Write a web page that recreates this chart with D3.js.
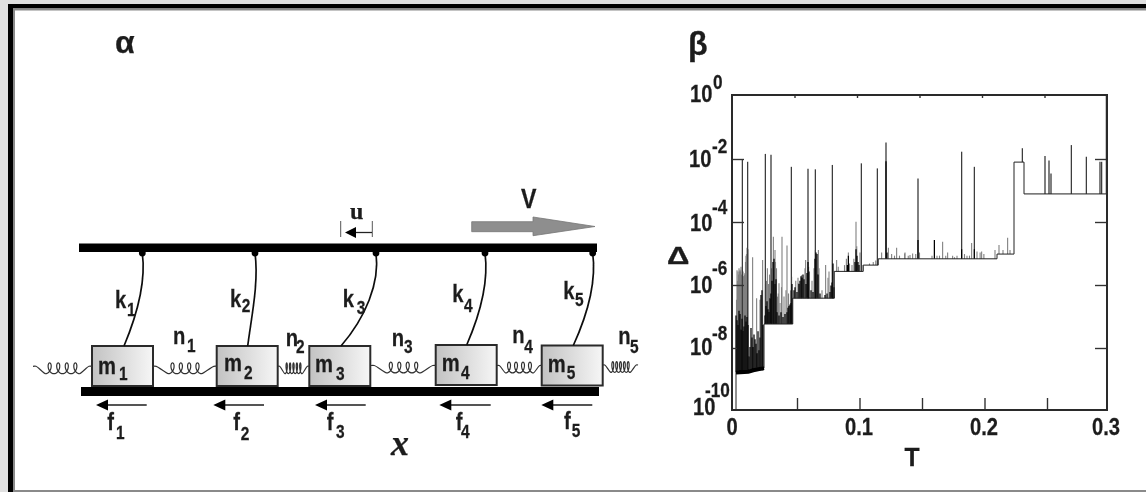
<!DOCTYPE html>
<html><head><meta charset="utf-8">
<script src="https://cdn.jsdelivr.net/npm/d3@7/dist/d3.min.js"></script>
<style>html,body{margin:0;padding:0;background:#fff}svg{display:block}
text{font-family:"Liberation Sans",Arial,sans-serif;font-weight:bold;fill:#1c1c1c;stroke:#1c1c1c;stroke-width:.25}</style>
</head><body><svg id="c" width="1146" height="492"></svg>
<script>
// ---- chart data (T, log10 Delta) ----
const stepT   = [.0032,.0032,.0130,.0170,.0256,.0256,.0486,.0486,.0818,.0818,.105,.105,.117,.117,.212,.212,.2256,.2256,.2336,.2336,.3];
const stepLog = [-10,-8.81,-8.79,-8.74,-8.67,-7.27,-7.27,-6.45,-6.45,-5.6,-5.6,-5.4,-5.4,-5.2,-5.2,-5.05,-5.05,-2.13,-2.13,-3.14,-3.14];
const tallT   = [.0083,.0125,.0267,.0312,.0475,.0608,.0667,.0803,.1035,.1163,.1232,.1488,.1837,.1939,.2323,.2504,.2536,.2552,.2715,.2835,.2944,.2957,.2995];
const tallLog = [-2.06,-2.12,-1.87,-1.9,-2.28,-2.34,-2.36,-2.22,-2.17,-2.33,-1.51,-2.65,-1.8,-2.28,-1.69,-1.94,-2.08,-2.49,-1.59,-1.96,-2.12,-2.12,0];
const midT    = [.0040,.0048,.0056,.0064,.0072,.0088,.0104,.0112,.0120,.0128,.0165,.0197,.0224,.0245,.0283,.0331,.0344,.0400,.0440,.0376,.0477,.0531,.0557,.0589,.0613,.0667,.0691,.0749,.0803,.0837,.0931,.0992,.0998,.1024,.1251,.1317,.1197,.1277,.1384,.1381,.1424,.1445,.1685,.1725,.1765,.1917,.1960,.1997,.2104,.2136,.2168,.2205,.2224,
  .0036,.0044,.0052,.0060,.0068,.0076,.0084,.0092,.0096,.0100,.0108,.0116,
  .0268,.0276,.0292,.0300,.0316,.0348,.0356,.0364,.0370,.0384,.0396,.0416,.0432,.0452,.0468,
  .0510,.0528,.0584,.0640,.0656,.0696,.0720,.0768,.0776,
  .0850,.0900,.0915,.0940,.0960,.0975,.1040,.1100,.1130,.1150,
  .1300,.1340,.1410,.1470,.1500,.1600,.1640,.1660,.1710,.1780,.1800,.1860,.1880,.1900,.1985,.2015];
const midLog  = [-5.56,-5.6,-5.5,-5.55,-5.45,-5.6,-5.65,-5.1,-4.85,-4.9,-5.15,-6.45,-6.5,-5.24,-5.5,-4.5,-4.92,-4.5,-4.78,-5.98,-5.77,-5.98,-5.72,-5.24,-5.45,-4.92,-4.92,-5.4,-5.24,-5.24,-5.0,-4.02,-4.8,-5.0,-4.85,-4.85,-5.0,-5.05,-5.0,-5.03,-5.08,-5.03,-4.66,-5.0,-5.1,-4.7,-4.97,-4.97,-4.92,-4.76,-4.92,-4.53,-4.92,
  -6.5,-5.9,-5.7,-5.6,-5.6,-5.7,-5.55,-5.75,-5.8,-5.7,-5.3,-5.05,
  -6.0,-5.9,-6.0,-5.7,-5.5,-5.3,-5.5,-6.4,-6.3,-6.6,-6.1,-6.4,-6.2,-6.3,-6.2,
  -5.9,-5.8,-5.5,-5.9,-5.5,-5.5,-6.2,-5.8,-5.6,
  -5.45,-5.4,-5.2,-5.35,-5.4,-5.2,-5.4,-5.35,-5.3,-5.25,
  -5.1,-5.1,-5.1,-5.05,-5.0,-5.1,-5.1,-5.1,-5.1,-5.15,-5.1,-5.05,-5.1,-5.1,-5.0,-5.05];
const denseT  = [.0032,.0040,.0048,.0056,.0064,.0072,.0080,.0088,.0096,.0104,.0112,.0120,.0128,.0136,.0144,.0152,.0160,.0168,.0176,.0184,.0192,.0200,.0208,.0216,.0224,.0232,.0240,.0248,
  .0264,.0272,.0280,.0288,.0296,.0304,.0312,.0320,.0328,.0336,.0344,.0352,.0360,.0376,.0392,.0408,.0424,.0440,.0448,.0456,.0464,.0472,.0480,
  .0496,.0504,.0520,.0536,.0544,.0552,.0560,.0568,.0576,.0592,.0600,.0608,.0616,.0632,.0648,.0664,.0672,.0680,.0688,.0704,.0744,.0760,.0784,.0792,.0800,.0808,.0816,
  .0923,.0931,.0984,.0992,.1000,.1008,.1016,.1232,.1240,.1488,.1619,.1837,.1939];
const denseLog= [-7.0,-7.15,-7.3,-6.85,-6.95,-7.45,-7.1,-7.5,-7.35,-7.0,-7.2,-7.05,-7.3,-8.3,-8.0,-7.4,-7.7,-8.0,-7.6,-7.75,-7.9,-8.2,-7.5,-8.1,-7.7,-6.35,-6.2,-7.3,
  -7.0,-6.7,-6.55,-6.8,-6.9,-6.45,-6.3,-5.9,-5.3,-5.2,-6.0,-5.85,-6.9,-7.0,-6.9,-7.05,-6.95,-6.9,-6.75,-6.7,-6.65,-6.6,-6.0,
  -6.2,-6.1,-6.25,-6.0,-5.9,-5.75,-5.8,-5.7,-5.85,-6.0,-5.65,-5.3,-5.6,-6.2,-6.25,-5.2,-5.0,-5.05,-5.7,-6.3,-6.35,-6.3,-6.25,-6.05,-5.95,-5.35,-6.1,
  -5.4,-5.1,-5.3,-4.9,-5.1,-5.3,-5.4,-2.1,-5.0,-4.6,-4.6,-4.9,-4.9];
const yTicks  = [0,-2,-4,-6,-8,-10];
const xLabels = [0,0.1,0.2,0.3];
const xTicks  = [.05,.1,.15,.2,.25];
// ---- schematic content ----
const kLabels = ["1","2","3","4","5"];

// ---- layout ----
const W=1146,H=492,SX=.86;
const svg=d3.select("#c");
const defs=svg.append("defs");
const f=defs.append("filter").attr("id","soft").attr("x","-2%").attr("y","-2%").attr("width","104%").attr("height","104%");
f.append("feGaussianBlur").attr("stdDeviation",0.45);
const grad=defs.append("linearGradient").attr("id","box");
grad.append("stop").attr("offset","0%").attr("stop-color","#c2c2c2");
grad.append("stop").attr("offset","100%").attr("stop-color","#f6f6f6");

// page frame
const frame=svg.append("g");
frame.append("rect").attr("width",W).attr("height",H).attr("fill","#fff");
frame.append("rect").attr("width",W).attr("height",4).attr("fill","#e0e0e0");
frame.append("rect").attr("width",8).attr("height",H).attr("fill","#e0e0e0");
frame.append("rect").attr("x",8).attr("y",4).attr("width",W-8).attr("height",4.5).attr("fill","#000");
frame.append("rect").attr("x",8).attr("y",8.5).attr("width",W-8).attr("height",2).attr("fill","#8a8a8a");
frame.append("rect").attr("x",8).attr("y",4).attr("width",5).attr("height",H-4).attr("fill","#000");
frame.append("rect").attr("x",13).attr("y",8.5).attr("width",2).attr("height",H-8).attr("fill","#8a8a8a");
frame.append("rect").attr("x",13).attr("y",490).attr("width",W-13).attr("height",2).attr("fill","#8a8a8a");

const root=svg.append("g").attr("filter","url(#soft)");

// ---- panel beta ----
const x=d3.scaleLinear().domain([0,.3]).range([732,1107]);
const y=d3.scaleLinear().domain([0,-10]).range([95,410]);
const g=root.append("g");
function baseAt(t){const i=Math.max(0,d3.bisectRight(stepT,t)-1);return stepLog[i];}
function spikes(ts,ls,color,w){
  g.append("g").selectAll("line").data(ts).join("line")
   .attr("x1",d=>x(d)).attr("x2",d=>x(d))
   .attr("y1",d=>y(baseAt(d))).attr("y2",(d,i)=>y(ls[i]))
   .attr("stroke",color).attr("stroke-width",w);
}
spikes(midT,midLog,"#808080",1.1);
spikes(tallT,tallLog,"#3c3c3c",1.3);
spikes(denseT,denseLog,"#000",1.25);
const pts=stepT.map((t,i)=>[t,stepLog[i]]);
g.append("path").attr("d",d3.line().x(d=>x(d[0])).y(d=>y(d[1]))(pts))
 .attr("fill","none").attr("stroke","#222").attr("stroke-width",1);
g.append("path").attr("d",d3.line().x(d=>x(d[0])).y(d=>y(d[1]))(pts.slice(1,5)))
 .attr("fill","none").attr("stroke","#000").attr("stroke-width",4);

function styleAxis(a){a.select(".domain").remove();a.selectAll("line").attr("stroke","#333").attr("stroke-width",1.4);a.selectAll("text").remove();}
root.append("g").attr("transform","translate(2.5,410)").call(d3.axisBottom(x).tickValues(xTicks).tickSize(-12)).call(styleAxis);
root.append("g").attr("transform","translate(0,95)").call(d3.axisTop(x).tickValues(xTicks).tickSize(-3)).call(styleAxis);
root.append("g").attr("transform","translate(732,1)").call(d3.axisLeft(y).tickValues([-2,-4,-6]).tickSize(-12)).call(styleAxis);
root.append("g").attr("transform","translate(732,1)").call(d3.axisLeft(y).tickValues([-8]).tickSize(-5)).call(styleAxis);
root.append("g").attr("transform","translate(1107,1)").call(d3.axisRight(y).tickValues([-2,-4,-6,-8]).tickSize(-12)).call(styleAxis);
root.append("rect").attr("x",732).attr("y",95).attr("width",375).attr("height",315)
 .attr("fill","none").attr("stroke","#2a2a2a").attr("stroke-width",2);

function txt(s,px,py,size,anchor,sx){
  return root.append("text").attr("transform",`translate(${px},${py}) scale(${sx||SX},1)`)
    .attr("font-size",size).attr("text-anchor",anchor||"start").text(s);
}
const baseDy=[7,9,10,9,8,5], expDy=[-6,-5,-7,-9,-7,-13], baseX=[690,689,690,690,690,693], expX=[713,712,712,712,712,705];
yTicks.forEach((v,i)=>{
  txt("10",baseX[i],y(v)+baseDy[i],23.5);
  txt(String(v),expX[i],y(v)+expDy[i],20);
});
const xLabX=[732,859,984,1106];
xLabels.forEach((v,i)=>txt(String(v),xLabX[i],435,23.5,"middle"));
txt("T",912,466,26,"middle",.95);
txt("Δ",667,264,24,"start",1.3);
txt("α",115,53,32,"start",1);
txt("β",688,55,34,"start",.95);

// ---- panel alpha ----
const ink="#111";
root.append("rect").attr("x",79).attr("y",243.5).attr("width",518).attr("height",8.5).attr("fill","#000");
root.append("rect").attr("x",81).attr("y",387).attr("width",518).attr("height",9).attr("fill","#000");

const boxX=[92,216.7,309.3,435.7,541.7];
const boxY=[346,346,346,345,345.5];
const anchorX=[142.3,255,376,485,592.7];
const endX=[124,247.7,341,466.7,573.3];
root.append("g").selectAll("rect").data(boxX).join("rect")
 .attr("x",d=>d).attr("y",(d,i)=>boxY[i]).attr("width",61).attr("height",40)
 .attr("fill","url(#box)").attr("stroke","#2a2a2a").attr("stroke-width",2);

anchorX.forEach((a,i)=>{
  const p=d3.path();
  p.moveTo(a,253);
  p.bezierCurveTo(a+4,283,a-2+(endX[i]-a)*.25,318,endX[i],boxY[i]);
  root.append("path").attr("d",p.toString()).attr("fill","none").attr("stroke",ink).attr("stroke-width",1.7);
  root.append("circle").attr("cx",a).attr("cy",253).attr("r",3.4).attr("fill","#000");
});

// springs
const springFrom=[33,153,278,371,497,603];
const springTo  =[92,217,309,436,542,638];
const springY   =[368.3,368.3,368.3,367.5,367.5,367];
const coilSpan  =[.58,.52,.55,.52,.62,.55];
const coilR     =[3.4,3.4,1.4,3.4,3.0,1.8];
springFrom.forEach((a,i)=>{
  const b=springTo[i],cy=springY[i],w=b-a,s=coilSpan[i];
  const c0=a+w*(1-s)/2,c1=b-w*(1-s)/2,n=i===2||i===5?5:4,pp=[];
  pp.push([a,cy-2],[a+w*.05,cy-2]);
  const N=n*14;
  for(let k=0;k<=N;k++){
    const u=k/N,th=u*n*2*Math.PI;
    pp.push([c0+u*(c1-c0)+Math.sin(th)*coilR[i], cy+Math.cos(th)*5.4]);
  }
  pp.push([b-w*.05,cy-2],[b,cy-2]);
  root.append("path").attr("d",d3.line().curve(d3.curveCatmullRom)(pp))
   .attr("fill","none").attr("stroke","#333").attr("stroke-width",1.2);
});

// friction arrows
const fTip=[96,213.3,315,439.3,541.3], fTail=[146.7,264,365.7,490.7,592.3];
function arrow(x0,x1,yy,hl,hw,col,wd){
  root.append("line").attr("x1",x0+hl-1).attr("x2",x1).attr("y1",yy).attr("y2",yy).attr("stroke",col).attr("stroke-width",wd);
  root.append("path").attr("d",d3.line()([[x0,yy],[x0+hl,yy-hw],[x0+hl,yy+hw]])+"Z").attr("fill","#000");
}
fTip.forEach((t,i)=>arrow(t,fTail[i],405,12,5.5,"#555",1.8));

// displacement marker
root.append("line").attr("x1",340.7).attr("x2",340.7).attr("y1",221).attr("y2",237).attr("stroke","#555");
root.append("line").attr("x1",372.3).attr("x2",372.3).attr("y1",221).attr("y2",237).attr("stroke","#555");
arrow(345,372,232.5,11,5.5,"#222",1.3);
root.append("text").attr("x",350).attr("y",219).attr("font-size",24).style("font-family","'Liberation Serif',serif").text("u");

// velocity arrow
root.append("path").attr("d",d3.line()([[471.7,221.7],[533,221.7],[533,217],[595,226.5],[533,235.7],[533,231.7],[471.7,231.7]])+"Z")
 .attr("fill","#8e8e8e").attr("stroke","#777").attr("stroke-width",.8);
txt("V",521,208,27);
root.append("text").attr("x",391).attr("y",455).attr("font-size",36).style("font-family","'Liberation Serif',serif").style("font-style","italic").text("x");

// symbol labels: letter, x, baseline, subscript x, subscript baseline
const lLetters=["k","k","k","k","k","n","n","n","n","n","m","m","m","m","m","f","f","f","f","f"];
const lX =[115,230,342.7,452.3,563.3,173,285.7,391.7,512.3,618.3,98,224,315,441.7,547.7,107.3,233.3,326.7,455.7,564];
const lY =[308,306.7,307,301.7,299.3,344,345.7,345.7,342.7,344.3,374,371,371.7,371,372.3,430,430,430,430,429.3];
const sX =[127,241.7,356.7,464,575,187,296,404,524.3,630,119,244,336,461,566.7,116,240.7,336,461,571.7];
const sY =[316,311.7,314,311.7,305.7,352,353.3,353.3,352.7,353.3,380,379.3,380,379,379,439.3,440,438,438,437.3];
const lSub=[...kLabels,...kLabels,...kLabels,...kLabels];
lLetters.forEach((c,i)=>{
  txt(c,lX[i],lY[i],23.5);
  txt(lSub[i],sX[i],sY[i],18);
});
</script></body></html>
